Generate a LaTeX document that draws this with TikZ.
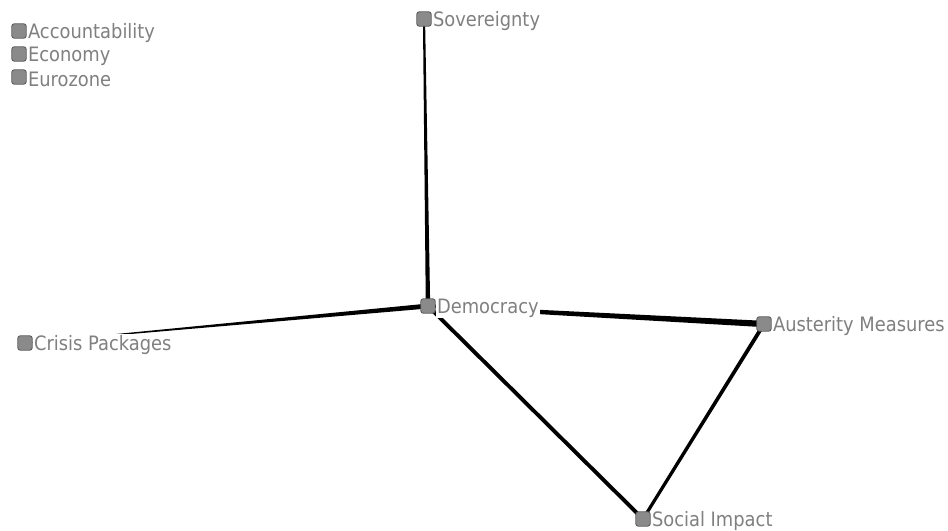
\documentclass[tikz,border=0pt]{standalone}
\usepackage{fontspec}
\setmainfont{DejaVu Sans}[FakeStretch=0.9]
\usetikzlibrary{positioning,calc,backgrounds}
\definecolor{nodeGrey}{HTML}{8A8A8A}
\definecolor{nodeRim}{HTML}{5C5C5C}
\definecolor{labelGrey}{HTML}{808080}

% link that gets wider from one end to the other
\newcommand{\taperlink}[4]{%
  \fill ($(#1)!#3!90:(#2)$) -- ($(#2)!#4!-90:(#1)$) -- ($(#2)!#4!90:(#1)$) -- ($(#1)!#3!-90:(#2)$) -- cycle;}

\begin{document}
\begin{tikzpicture}[x=0.02cm, y=-0.02cm,
  sq/.style={draw=nodeRim, fill=nodeGrey, rounded corners=1.4pt, minimum size=8.2pt, inner sep=0pt, line width=0.5pt},
  lbl/.style={fill=white, text=labelGrey, inner sep=0.6pt, yshift=-1.2pt, font=\fontsize{11.3}{12}\selectfont, right=0pt of #1}]
  \useasboundingbox (0,0) rectangle (948,531);

  \node[sq] (acc) at (19,31) {};
  \node[lbl=acc] (acclbl) {Accountability};
  \node[sq] (eco) at (19,54) {};
  \node[lbl=eco] (ecolbl) {Economy};
  \node[sq] (euro) at (19,77) {};
  \node[lbl=euro] (eurolbl) {Eurozone};

  \node[sq] (sov) at (424,19) {};
  \node[lbl=sov] (sovlbl) {Sovereignty};
  \node[sq] (dem) at (428,306) {};
  \node[lbl=dem] (demlbl) {Democracy};
  \node[sq] (cri) at (25,343) {};
  \node[lbl=cri] (crilbl) {Crisis Packages};
  \node[sq] (aus) at (764,324) {};
  \node[lbl=aus] (auslbl) {Austerity Measures};
  \node[sq] (soc) at (643,519) {};
  \node[lbl=soc] (soclbl) {Social Impact};

  \begin{scope}[on background layer]
    \taperlink{sov}{dem}{0.6pt}{1.25pt}
    \taperlink{dem}{cri}{1.4pt}{0.05pt}
    \taperlink{dem}{aus}{0.95pt}{1.8pt}
    \taperlink{dem}{soc}{1.1pt}{1.1pt}
    \taperlink{aus}{soc}{1.1pt}{0.9pt}
  \end{scope}
\end{tikzpicture}
\end{document}
